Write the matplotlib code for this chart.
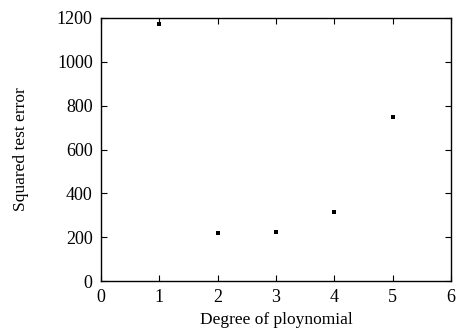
import matplotlib
matplotlib.use('Agg')
import matplotlib.pyplot as plt

# degree of polynomial vs squared test error
degree = [1, 2, 3, 4, 5]
test_error = [1173, 219, 222, 315, 749]

plt.rcParams['font.family'] = 'Liberation Serif'

fig = plt.figure(figsize=(4.59, 3.36), dpi=100, facecolor='w')
ax1 = fig.add_axes([101/459, 1-281/336, 350/459, 263/336])

ax1.scatter(degree, test_error, marker='s', s=12, color='black', linewidths=0)

ax1.set_xlim(0, 6)
ax1.set_ylim(0, 1200)
ax1.set_xticks(range(0, 7))
ax1.set_yticks(range(0, 1201, 200))
ax1.tick_params(direction='in', top=True, right=True, labelsize=13, length=4, width=0.8, pad=6)
for sp in ax1.spines.values():
	sp.set_linewidth(1.0)

ax1.set_xlabel('Degree of ploynomial', fontsize=12.5, labelpad=4)
ax1.set_ylabel('Squared test error', fontsize=12.5, labelpad=20)

fig.savefig('out.png', dpi=100)
plt.close()
